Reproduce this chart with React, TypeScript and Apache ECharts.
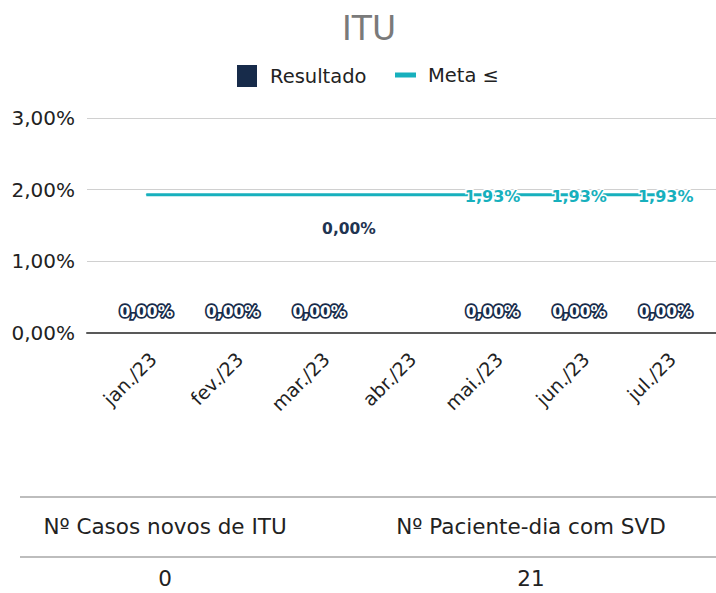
import React, { useEffect, useRef } from "react";
import * as echarts from "echarts";

const months = ["jan./23", "fev./23", "mar./23", "abr./23", "mai./23", "jun./23", "jul./23"];
const resultado = [0, 0, 0, 0, 0, 0, 0];
const meta = [1.93, 1.93, 1.93, 1.93, 1.93, 1.93, 1.93];
const metaLabelShown = [false, false, false, false, true, true, true];
const yTicks = [0, 1, 2, 3];
const tableHeaders = ["Nº Casos novos de ITU", "Nº Paciente-dia com SVD"];
const tableValues = ["0", "21"];

const FONT = "DejaVu Sans";
const NAVY = "#172b4a";
const TEAL = "#17b0bd";
const fmt = (v: number) => v.toFixed(2).replace(".", ",") + "%";

export default function App() {
  const ref = useRef<HTMLDivElement>(null);
  useEffect(() => {
    document.body.style.margin = "0";
    const chart = echarts.init(ref.current!, null, { renderer: "svg" });
    const colX = [165, 531];
    const option: any = {
      animation: false,
      textStyle: { fontFamily: FONT },
      title: {
        text: "ITU",
        left: 337,
        top: 7,
        textStyle: { fontFamily: FONT, fontSize: 33, fontWeight: "normal", color: "#7a7a7a" },
      },
      legend: [
        {
          data: ["Resultado"],
          left: 237,
          top: 65,
          padding: 0,
          itemWidth: 20,
          itemHeight: 22,
          icon: "rect",
          textStyle: { fontFamily: FONT, fontSize: 19.5, color: "#222", padding: [0, 0, 0, 8] },
        },
        {
          data: ["Meta ≤"],
          left: 395,
          top: 65,
          padding: 0,
          itemWidth: 21,
          itemHeight: 5,
          icon: "rect",
          textStyle: { fontFamily: FONT, fontSize: 19.5, color: "#222", padding: [0, 0, 0, 7] },
        },
      ],
      grid: [
        { left: 87, right: 0, top: 118, height: 215 },
        { left: 103, right: 7, top: 118, height: 215 },
      ],
      xAxis: [
        {
          gridIndex: 0,
          type: "category",
          data: [""],
          axisLine: { show: true, lineStyle: { color: "#595959", width: 2 } },
          axisTick: { show: false },
          axisLabel: { show: false },
        },
        {
          gridIndex: 1,
          type: "category",
          data: months,
          axisLine: { show: false },
          axisTick: { show: false },
          axisLabel: {
            rotate: 45,
            fontFamily: FONT,
            fontSize: 19,
            color: "#222",
            margin: 16,
            verticalAlign: "top",
          },
        },
      ],
      yAxis: [
        {
          gridIndex: 0,
          type: "value",
          min: yTicks[0],
          max: yTicks[yTicks.length - 1],
          interval: 1,
          axisLine: { show: false },
          axisTick: { show: false },
          splitLine: { lineStyle: { color: "#d0d0d0", width: 1 } },
          axisLabel: { formatter: (v: number) => fmt(v), fontFamily: FONT, fontSize: 20, color: "#222", margin: 12 },
        },
        {
          gridIndex: 1,
          type: "value",
          min: yTicks[0],
          max: yTicks[yTicks.length - 1],
          interval: 1,
          show: false,
          splitLine: { show: false },
        },
      ],
      series: [
        {
          name: "Resultado",
          type: "bar",
          xAxisIndex: 1,
          yAxisIndex: 1,
          barWidth: "60%",
          itemStyle: { color: NAVY },
          data: resultado.map((v, i) =>
            i === 3
              ? {
                  value: v,
                  label: {
                    show: true,
                    offset: [-57, -83],
                    color: "#1f3451",
                    textBorderWidth: 0,
                  },
                }
              : v
          ),
          label: {
            show: true,
            position: "top",
            distance: 13,
            formatter: (p: any) => fmt(p.value),
            fontFamily: FONT,
            fontSize: 15.5,
            fontWeight: "bold",
            color: "#ffffff",
            textBorderColor: NAVY,
            textBorderWidth: 3.5,
          },
        },
        {
          name: "Meta ≤",
          type: "line",
          xAxisIndex: 1,
          yAxisIndex: 1,
          symbol: "circle",
          symbolSize: 1,
          lineStyle: { color: TEAL, width: 3 },
          itemStyle: { color: TEAL },
          data: meta.map((v, i) => ({ value: v, label: { show: metaLabelShown[i] } })),
          label: {
            position: "inside",
            offset: [0, 2],
            formatter: (p: any) => fmt(p.value),
            fontFamily: FONT,
            fontSize: 16,
            fontWeight: "bold",
            color: TEAL,
            textBorderColor: "#ffffff",
            textBorderWidth: 3,
          },
        },
      ],
      graphic: [
        { type: "line", shape: { x1: 20, y1: 497, x2: 716, y2: 497 }, style: { stroke: "#bdbdbd", lineWidth: 2 } },
        { type: "line", shape: { x1: 20, y1: 557, x2: 716, y2: 557 }, style: { stroke: "#bdbdbd", lineWidth: 2 } },
        ...tableHeaders.map((t, i) => ({
          type: "text",
          x: colX[i],
          y: 526,
          style: { text: t, fontFamily: FONT, fontSize: 21.5, fill: "#222", align: "center", verticalAlign: "middle" },
        })),
        ...tableValues.map((t, i) => ({
          type: "text",
          x: colX[i],
          y: 578,
          style: { text: t, fontFamily: FONT, fontSize: 21.5, fill: "#222", align: "center", verticalAlign: "middle" },
        })),
      ],
    };
    chart.setOption(option);
    return () => chart.dispose();
  }, []);
  return <div ref={ref} style={{ width: 716, height: 593 }} />;
}
